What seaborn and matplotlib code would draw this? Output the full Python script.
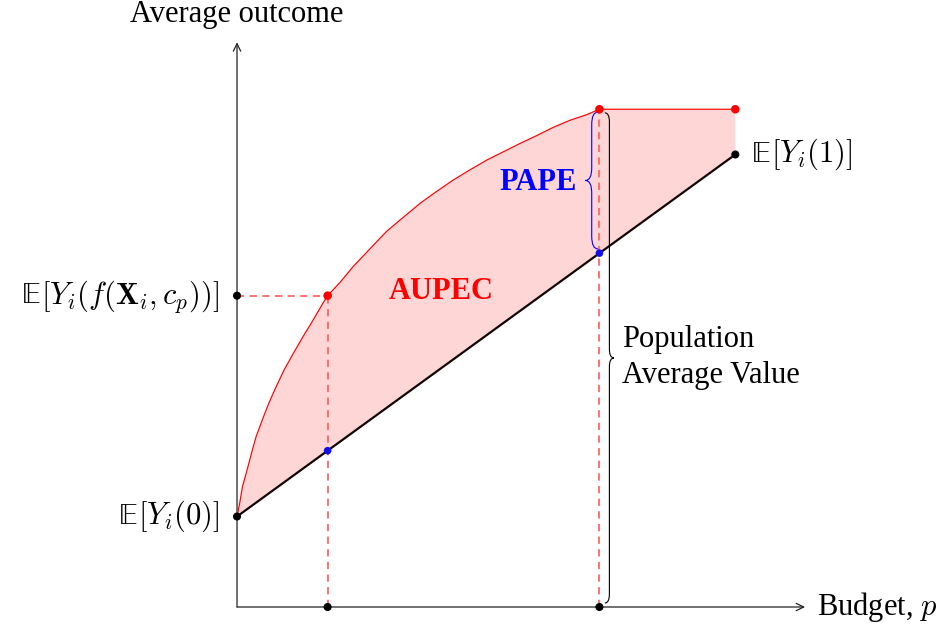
import numpy as np
import pandas as pd
import matplotlib
matplotlib.use("Agg")
import matplotlib.pyplot as plt
import seaborn as sns
from matplotlib.path import Path
from matplotlib.patches import PathPatch

# ---- data ----
curve_x = [0.0, 0.03, 0.06, 0.11, 0.16, 0.21, 0.28, 0.35, 0.43, 0.52,
           0.62, 0.73, 0.84, 0.95, 1.0, 1.14, 1.28, 1.47, 1.65, 1.84,
           2.02, 2.20, 2.39, 2.57, 2.76, 2.94, 3.12, 3.31, 3.49, 3.68,
           3.86, 4.0]
curve_y = [1.0, 1.15, 1.33, 1.51, 1.70, 1.88, 2.07, 2.25, 2.43, 2.62,
           2.80, 2.99, 3.17, 3.36, 3.44, 3.59, 3.76, 3.96, 4.15, 4.31,
           4.46, 4.59, 4.72, 4.83, 4.94, 5.03, 5.12, 5.21, 5.30, 5.38,
           5.44, 5.50]
flat_x = [4.0, 5.5]
flat_y = [5.5, 5.5]
base_x = [0.0, 5.5]
base_y = [1.0, 5.0]
p_small, p_large = 1.0, 4.0
y_targeted = 3.44
base_at_small, base_at_large = 1.727, 3.91
y0, y1, ymax = 1.0, 5.0, 5.5
x_end = 5.5

sns.set_theme(style="white")
plt.rcParams["font.family"] = ["Liberation Serif", "DejaVu Serif"]
plt.rcParams["mathtext.fontset"] = "cm"

fig = plt.figure(figsize=(9.42, 6.27), dpi=100)
ax = fig.add_axes([0, 0, 1, 1])
ax.set_xlim(-2.616, 7.781)
ax.set_ylim(-0.221, 6.707)
ax.axis("off")

FS = 22
fill_c = "#ffd6d6"
red = "#ff0000"
dash_c = "#ff6666"

# filled area between curve and baseline
poly_x = curve_x + [x_end, x_end] + [base_x[0]]
poly_y = curve_y + [ymax, y1] + [base_y[0]]
ax.fill(poly_x, poly_y, color=fill_c, lw=0, zorder=1)

# dashed guides
ax.plot([0, p_small], [y_targeted, y_targeted], color=dash_c, lw=1.3, dashes=(4, 3), zorder=2)
ax.plot([p_small, p_small], [0, y_targeted], color=dash_c, lw=1.3, dashes=(4, 3), zorder=2)
ax.plot([p_large, p_large], [0, ymax], color=dash_c, lw=1.3, dashes=(4, 3), zorder=2)

# curves
df_curve = pd.DataFrame({"x": curve_x + flat_x[1:], "y": curve_y + flat_y[1:]})
sns.lineplot(data=df_curve, x="x", y="y", sort=False, color=red, lw=0.85, ax=ax, zorder=3,
             solid_joinstyle="round")
df_base = pd.DataFrame({"x": base_x, "y": base_y})
sns.lineplot(data=df_base, x="x", y="y", sort=False, color="#140505", lw=1.6, ax=ax, zorder=3)

# axes with arrows
ax.annotate("", xy=(6.27, 0), xytext=(0, 0),
            arrowprops=dict(arrowstyle="->,head_length=0.45,head_width=0.22", lw=0.9, color="#222222",
                            shrinkA=0, shrinkB=0), zorder=2)
ax.annotate("", xy=(0, 6.24), xytext=(0, 0),
            arrowprops=dict(arrowstyle="->,head_length=0.45,head_width=0.22", lw=0.9, color="#222222",
                            shrinkA=0, shrinkB=0), zorder=2)

# dots
blk = pd.DataFrame({"x": [0, 0, x_end, p_small, p_large], "y": [y0, y_targeted, y1, 0, 0]})
sns.scatterplot(data=blk, x="x", y="y", color="black", s=34, edgecolor="none", ax=ax, zorder=5)
reds = pd.DataFrame({"x": [p_small, p_large, x_end], "y": [y_targeted, ymax, ymax]})
sns.scatterplot(data=reds, x="x", y="y", color=red, s=38, edgecolor="none", ax=ax, zorder=5)
blues = pd.DataFrame({"x": [p_small, p_large], "y": [base_at_small, base_at_large]})
sns.scatterplot(data=blues, x="x", y="y", color="#1010ee", s=30, edgecolor="none", ax=ax, zorder=5)
if ax.get_legend() is not None:
    ax.get_legend().remove()


def brace(x0, yt, yb, d, a, color, lw):
    ym = (yt + yb) / 2
    h = x0 + d * a / 2
    verts = [(x0, yt), (h, yt), (h, yt - a),
             (h, ym + a), (h, ym), (x0 + d * a, ym),
             (h, ym), (h, ym - a),
             (h, yb + a), (h, yb), (x0, yb)]
    codes = [Path.MOVETO, Path.CURVE3, Path.CURVE3,
             Path.LINETO, Path.CURVE3, Path.CURVE3,
             Path.CURVE3, Path.CURVE3,
             Path.LINETO, Path.CURVE3, Path.CURVE3]
    ax.add_patch(PathPatch(Path(verts, codes), fill=False, edgecolor=color, lw=lw, zorder=4))


brace(4.06, 5.46, 0.044, +1, 0.10, "black", 0.8)
brace(3.985, 5.47, 3.956, -1, 0.14, "#0000ff", 0.8)

# E[...] labels: upright blackboard E + rest in Computer Modern
BOFF = 0.085
BB_E = "\U0001D53C"
BB_FAM = ["STIXGeneral", "DejaVu Sans"]


def elabel(x, yc, rest, ha):
    yb = yc - BOFF
    if ha == "right":
        t = ax.text(x, yb, rest, ha="right", va="baseline", fontsize=FS, color="black")
        ax.annotate(BB_E, xy=(0, yb), xycoords=(t, "data"), ha="right", va="baseline",
                    fontsize=FS, color="black", family=BB_FAM)
    else:
        e = ax.text(x, yb, BB_E, ha="left", va="baseline", fontsize=FS, color="black",
                    family=BB_FAM)
        ax.annotate(rest, xy=(1, yb), xycoords=(e, "data"), ha="left", va="baseline",
                    fontsize=FS, color="black")


elabel(-0.2, y_targeted, r"$[Y_i(f(\mathbf{X}_i,c_p))]$", "right")
elabel(-0.2, y0, r"$[Y_i(0)]$", "right")
elabel(5.68, y1, r"$[Y_i(1)]$", "left")

# texts
ax.text(0, 6.464, "Average outcome", ha="center", va="baseline", fontsize=FS, color="black")
ax.text(6.40, 0.0, "Budget, $p$", ha="left", va="center", fontsize=FS, color="black")
ax.text(2.25, 3.49, "AUPEC", ha="center", va="center", fontsize=FS, fontweight="bold", color=red)
ax.text(3.32, 4.685, "PAPE", ha="center", va="center", fontsize=FS, fontweight="bold", color="#0000ff")
ax.text(4.25, 2.76, "Population\nAverage Value", ha="left", va="center", fontsize=FS,
        linespacing=1.3, color="black")

fig.savefig("out.png", dpi=100)
